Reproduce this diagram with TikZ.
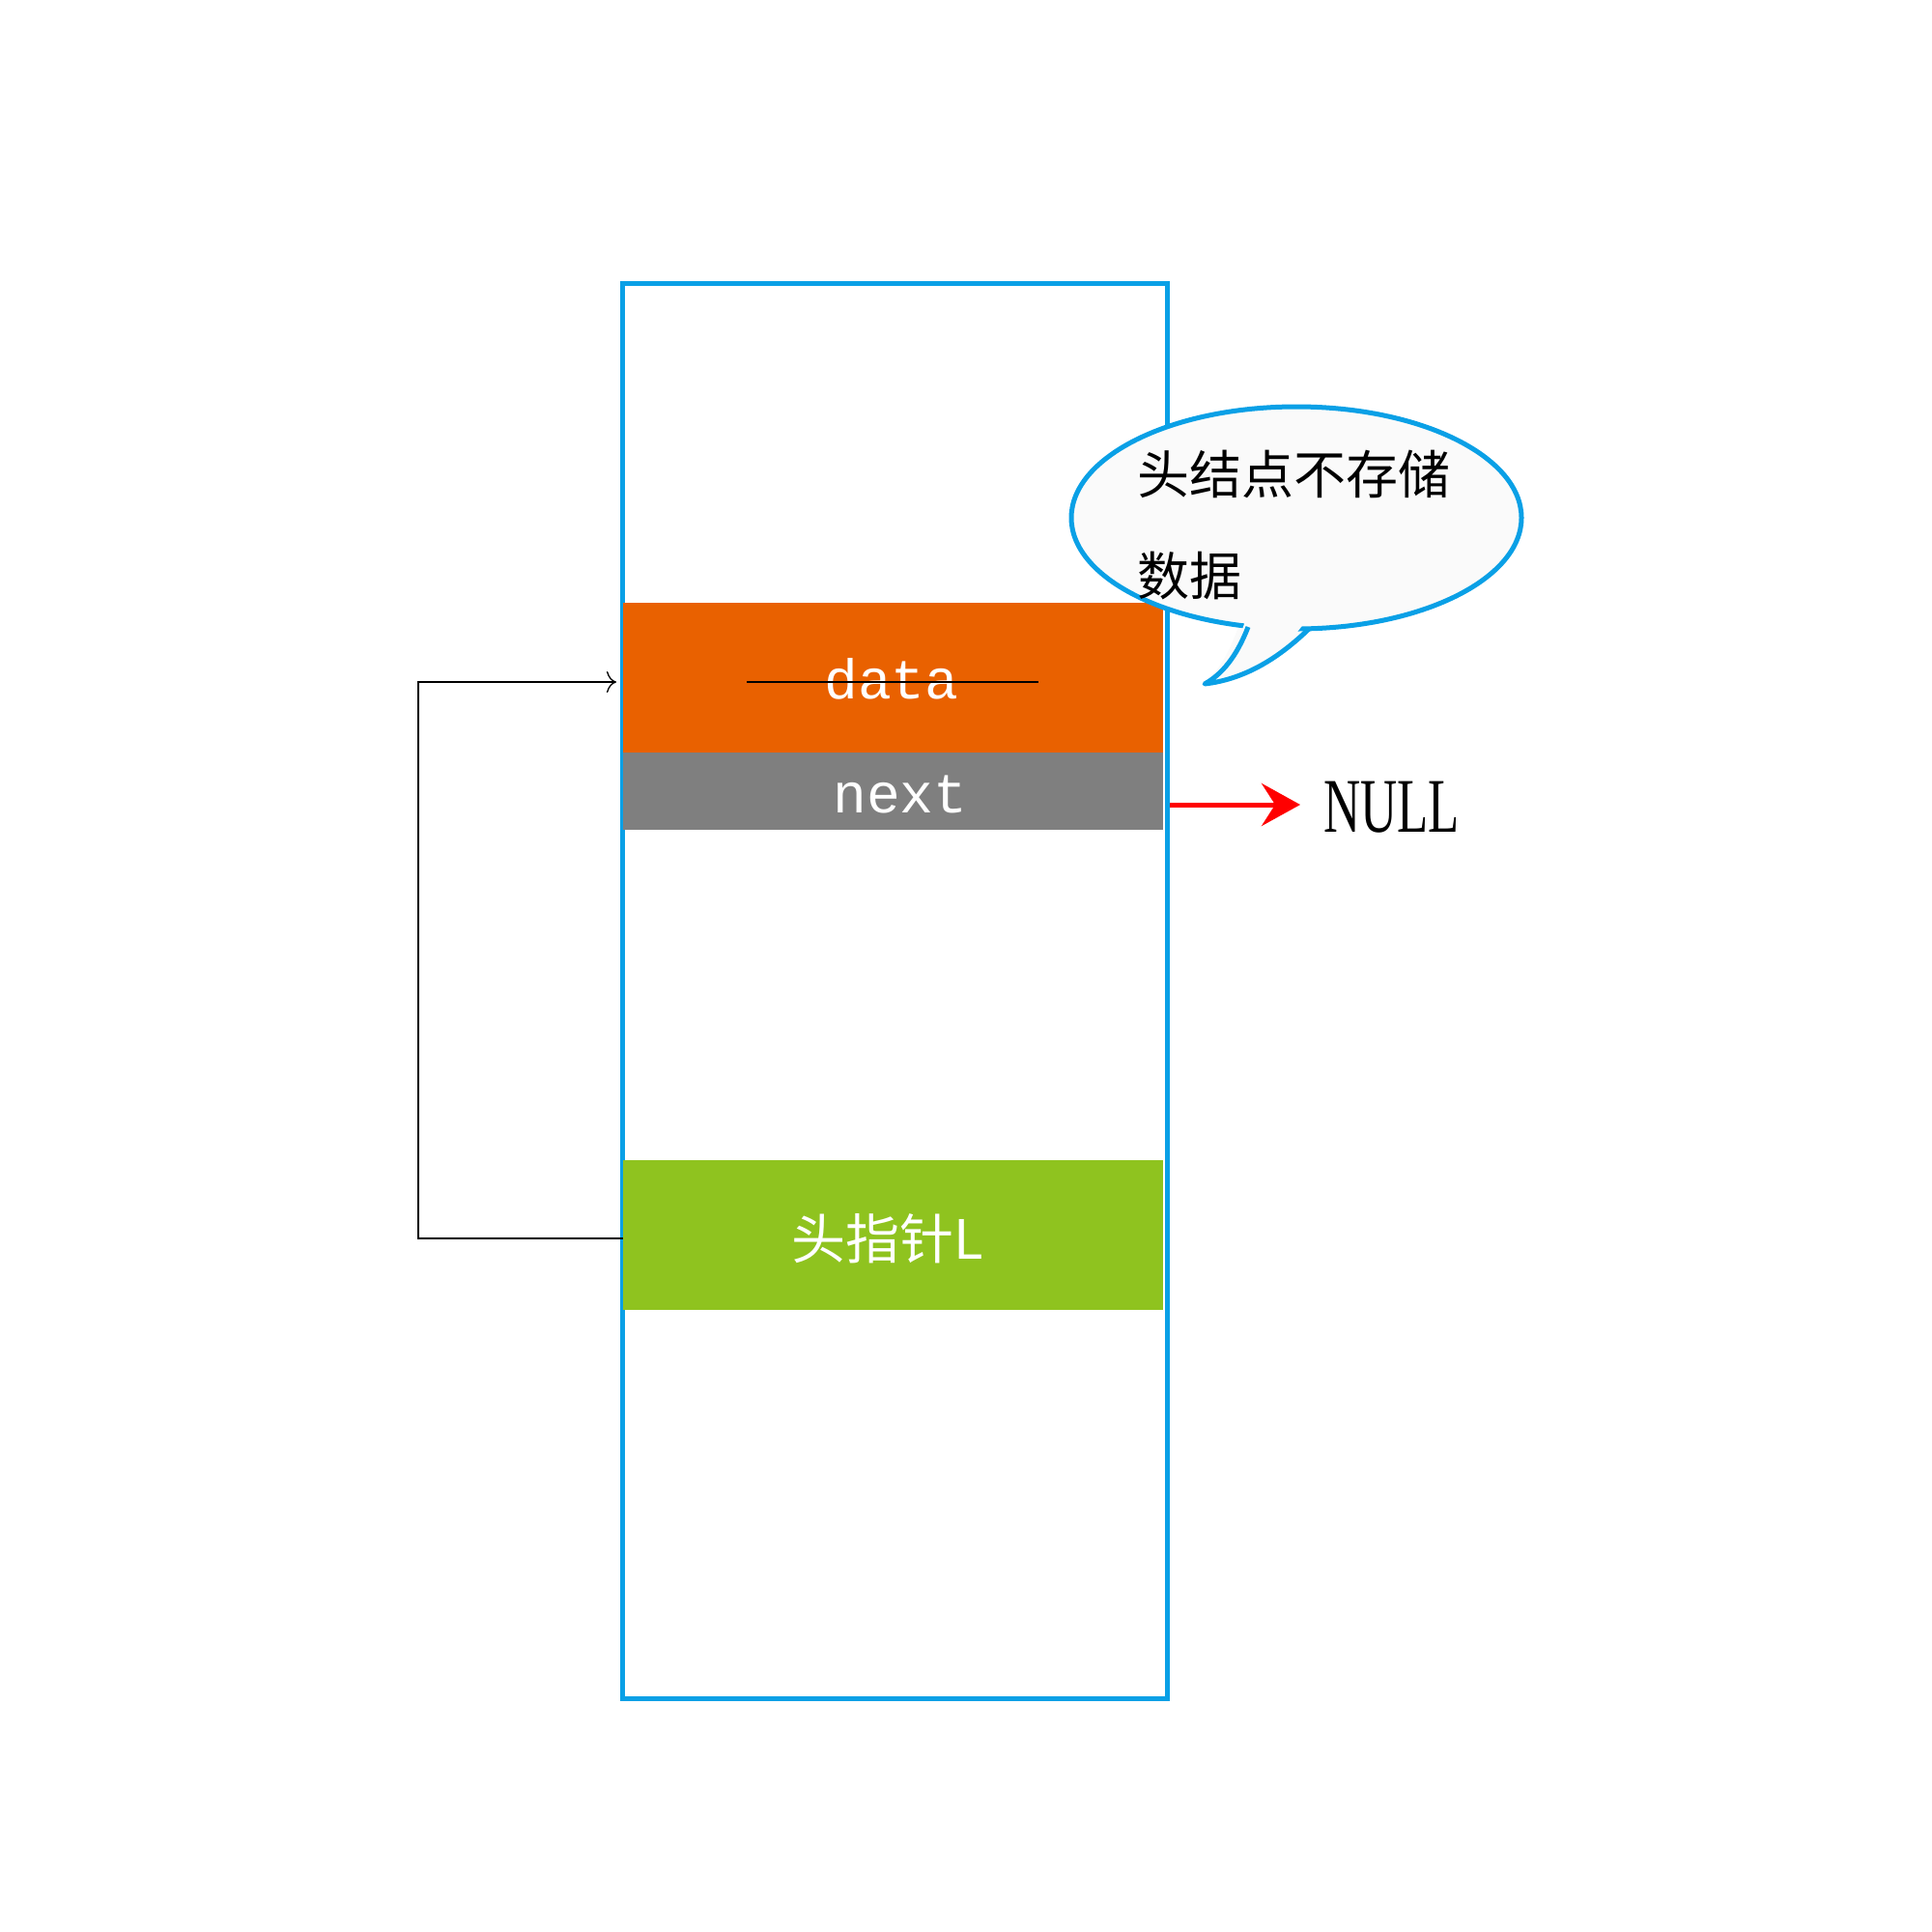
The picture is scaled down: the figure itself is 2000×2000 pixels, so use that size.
\documentclass[tikz,border=0pt]{standalone}
\usepackage{fontspec}
\setmonofont{Liberation Mono}
\newfontfamily\cjk{Noto Sans CJK SC}
\newfontfamily\serifL{Liberation Serif}
\usetikzlibrary{arrows.meta}
\definecolor{boxblue}{HTML}{0AA0E6}
\definecolor{orng}{HTML}{E96100}
\definecolor{grey}{HTML}{7F7F7F}
\definecolor{grn}{HTML}{8FC31F}
\begin{document}
\begin{tikzpicture}[x=1pt,y=-1pt,
  band/.style={draw=none,inner sep=0pt,anchor=north west},
  wtext/.style={text=white}]
\useasboundingbox (0,0) rectangle (2000,2000);
\node[draw=boxblue,line width=5pt,minimum width=564pt,minimum height=1465pt,inner sep=0pt,anchor=north west] (mem) at (642,291) {};
\node[band,fill=orng,minimum width=559pt,minimum height=155pt] (dataf) at (645,624) {};
\node[band,fill=grey,minimum width=559pt,minimum height=80pt] (nextf) at (645,779) {};
\node[band,fill=grn,minimum width=559pt,minimum height=155pt] (hp) at (645,1201) {};
\node[wtext,font=\ttfamily\fontsize{58}{60}\selectfont] (dt) at (923,703) {data};
\node[wtext,font=\ttfamily\fontsize{58}{60}\selectfont] (nt) at (932,822) {next};
\node[wtext,font=\cjk\fontsize{56}{60}\selectfont] (ht) at (919,1282) {头指针L};
\coordinate (s1) at (773,706); \coordinate (s2) at (1075,706);
\draw[line width=1.2pt] (s1) -- (s2);
% connector
\coordinate (lb) at (433,1282); \coordinate (lt) at (433,706);
\coordinate (pin) at (638,706);
\draw[line width=1.3pt,-{To[length=10pt,width=22pt]}] (hp.west |- lb) -- (lb) -- (lt) -- (pin);
% NULL
\node[font=\serifL\fontsize{80}{80}\selectfont,xscale=0.66,anchor=west] (null) at (1368,836) {NULL};
\coordinate (ns) at (1211,833);
\draw[red,line width=5pt,-{Stealth[length=40pt,width=44pt,inset=14pt]}] (ns) -- (1346,833);
% callout
\fill[black!2] (1285,640) .. controls (1275,670) and (1265,690) .. (1247,708) .. controls (1290,703) and (1325,680) .. (1358,651) -- cycle;
\draw[boxblue,line width=5pt,fill=black!2] (1342,536) ellipse [x radius=233, y radius=115];
\fill[black!2] (1290,640) .. controls (1280,670) and (1270,690) .. (1253,706) .. controls (1290,700) and (1325,680) .. (1350,645) -- cycle;
\draw[boxblue,line width=5pt,line join=round] (1292,649) .. controls (1280,680) and (1265,698) .. (1247,708) .. controls (1290,703) and (1325,680) .. (1355,651);
\node[font=\cjk\fontsize{54}{60}\selectfont,anchor=west,inner sep=0pt] (c1) at (1177,491) {头结点不存储};
\node[font=\cjk\fontsize{54}{60}\selectfont,anchor=west,inner sep=0pt] (c2) at (1177,596) {数据};
\end{tikzpicture}
\end{document}
